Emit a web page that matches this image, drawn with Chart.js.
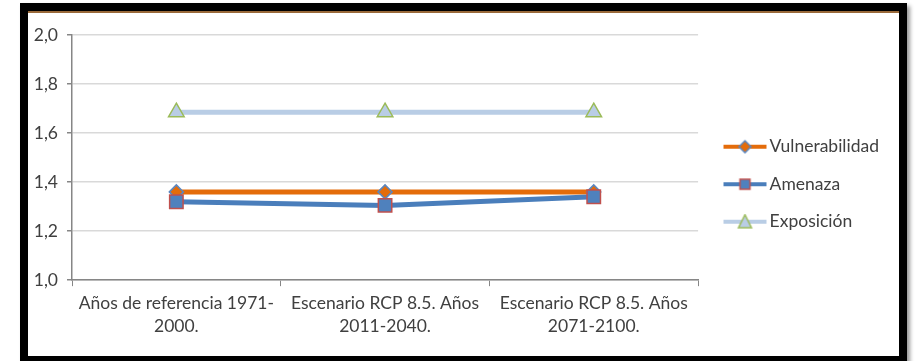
<!DOCTYPE html>
<html>
<head>
<meta charset="utf-8">
<script src="https://cdn.jsdelivr.net/npm/chart.js@4.4.0/dist/chart.umd.min.js"></script>
<style>
  html, body { margin: 0; padding: 0; background: #fff; overflow: hidden; }
  #frame {
    position: absolute; left: 20px; top: 3px;
    width: 871px; height: 345px;
    border: 8px solid #000;
    box-shadow: 3px 3px 4px #999;
  }
  #inner { position: absolute; left: 0; top: 0; width: 871px; height: 345px; border-top: 2px solid #9a6a3a; box-sizing: border-box; background: #fff; }
  #chartBox { position: absolute; left: 0; top: 0; width: 871px; height: 345px; }
</style>
</head>
<body>
<div id="frame">
  <div id="inner"></div>
  <div id="chartBox"><canvas id="riskChart"></canvas></div>
</div>
<script>
const categories = [
  ['Años de referencia 1971-', '2000.'],
  ['Escenario RCP 8.5. Años', '2011-2040.'],
  ['Escenario RCP 8.5. Años', '2071-2100.']
];
const vulnerabilidad = [1.36, 1.36, 1.36];
const amenaza = [1.32, 1.305, 1.34];
const exposicion = [1.685, 1.685, 1.685];

const FONT = 'Lato, "Open Sans", sans-serif';
const FS = 17.5;

// legend sample: short line with the marker in the middle (left part of canvas left blank)
function legendIcon(lineColor, draw) {
  const c = document.createElement('canvas');
  c.width = 60; c.height = 16;
  const g = c.getContext('2d');
  g.translate(14, 0);
  g.strokeStyle = lineColor; g.lineWidth = 4;
  g.beginPath(); g.moveTo(0, 8); g.lineTo(43, 8); g.stroke();
  draw(g);
  return c;
}

const iconVul = legendIcon('#E46C0A', g => {
  g.fillStyle = '#E46C0A'; g.strokeStyle = '#5B87C0'; g.lineWidth = 1.5;
  g.beginPath(); g.moveTo(21.5, 2); g.lineTo(27.5, 8); g.lineTo(21.5, 14); g.lineTo(15.5, 8); g.closePath();
  g.fill(); g.stroke();
});
const iconAme = legendIcon('#4A7EBB', g => {
  g.fillStyle = '#4F81BD'; g.strokeStyle = '#C0504D'; g.lineWidth = 1.5;
  g.fillRect(16.5, 3, 10, 10); g.strokeRect(16.5, 3, 10, 10);
});
const iconExp = legendIcon('#B9CDE5', g => {
  g.fillStyle = '#B9CDE5'; g.strokeStyle = '#9BBB59'; g.lineWidth = 1.5;
  g.beginPath(); g.moveTo(21.5, 1); g.lineTo(28, 14); g.lineTo(15, 14); g.closePath();
  g.fill(); g.stroke();
});

const ctx = document.getElementById('riskChart').getContext('2d');

const riskChart = new Chart(ctx, {
  type: 'line',
  data: {
    labels: categories,
    datasets: [
      {
        label: 'Vulnerabilidad',
        data: vulnerabilidad,
        borderColor: '#E46C0A',
        borderWidth: 5,
        pointStyle: 'rectRot',
        pointRadius: 7,
        pointBackgroundColor: '#E46C0A',
        pointBorderColor: '#5B87C0',
        pointBorderWidth: 1.5,
        tension: 0,
        order: 1
      },
      {
        label: 'Amenaza',
        data: amenaza,
        borderColor: '#4A7EBB',
        borderWidth: 5,
        pointStyle: 'rect',
        pointRadius: 9.5,
        pointBackgroundColor: '#4F81BD',
        pointBorderColor: '#C0504D',
        pointBorderWidth: 1.5,
        tension: 0,
        order: 0
      },
      {
        label: 'Exposición',
        data: exposicion,
        borderColor: '#B9CDE5',
        borderWidth: 5,
        pointStyle: 'triangle',
        pointRadius: 9,
        pointBackgroundColor: '#B9CDE5',
        pointBorderColor: '#9BBB59',
        pointBorderWidth: 1.5,
        tension: 0,
        order: 2
      }
    ]
  },
  options: {
    responsive: true,
    maintainAspectRatio: false,
    animation: false,
    layout: { padding: { left: 0, right: 10, top: 24, bottom: 12 } },
    plugins: {
      tooltip: { enabled: false },
      legend: {
        position: 'right',
        align: 'start',
        title: { display: true, text: ' ', font: { size: 10 }, padding: { top: 71, bottom: 0 } },
        labels: {
          usePointStyle: true,
          pointStyleWidth: 42.75,
          padding: 20,
          color: '#404040',
          font: { family: FONT, size: FS },
          generateLabels: chart => {
            const icons = [iconVul, iconAme, iconExp];
            return chart.data.datasets.map((ds, i) => ({
              text: ds.label,
              pointStyle: icons[i],
              fillStyle: ds.borderColor,
              strokeStyle: ds.borderColor,
              lineWidth: 0,
              fontColor: '#404040',
              hidden: false,
              datasetIndex: i
            }));
          }
        }
      }
    },
    scales: {
      x: {
        offset: true,
        grid: { display: true, drawOnChartArea: false, offset: true, tickLength: 6, color: '#868686' },
        border: { color: '#868686', width: 1.5 },
        ticks: { color: '#404040', font: { family: FONT, size: FS, lineHeight: 1.31 }, maxRotation: 0, padding: 6 }
      },
      y: {
        min: 1.0,
        max: 2.0,
        afterFit: scale => { scale.width = 44; },
        grid: { color: '#D9D9D9', lineWidth: 1.5, tickLength: 5, tickColor: '#868686' },
        border: { color: '#868686', width: 1.5 },
        ticks: {
          stepSize: 0.2,
          color: '#404040',
          font: { family: FONT, size: FS },
          padding: 9,
          callback: v => v.toFixed(1).replace('.', ',')
        }
      }
    }
  }
});
</script>
</body>
</html>
